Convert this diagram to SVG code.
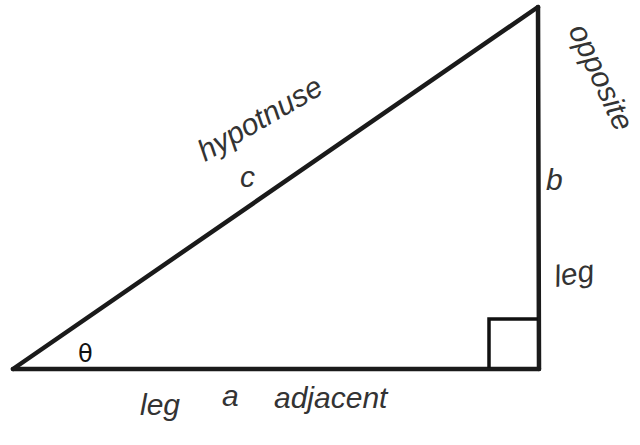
<svg xmlns="http://www.w3.org/2000/svg" width="640" height="445" viewBox="0 0 640 445">
<style>
.edge{stroke:#1a1a1a;stroke-width:4.5;fill:none;stroke-linecap:round;stroke-linejoin:round}
.sq{stroke:#111;stroke-width:3.5;fill:none}
.hand{font-family:"Liberation Sans","DejaVu Sans",sans-serif;font-style:italic;font-weight:normal;fill:#333;font-size:30px}
.theta{font-family:"DejaVu Sans",sans-serif;font-size:24px;fill:#111}
</style>
<rect width="640" height="445" fill="#fff"/>
<g id="connectors">
<line class="edge" x1="13" y1="369" x2="538" y2="7"/>
<line class="edge" x1="538" y1="7" x2="539" y2="369"/>
<line class="edge" x1="13" y1="369" x2="539" y2="369"/>
</g>
<g id="right-angle"><path class="sq" d="M489 368 V319 H538"/></g>
<g id="theta"><text class="theta" x="78" y="362">θ</text></g>
<g id="hyp-label">
<text class="hand" transform="translate(205 162) rotate(-30)">hypotnuse</text>
<text class="hand" x="240" y="187">c</text>
</g>
<g id="opp-label">
<text class="hand" transform="translate(568 30) rotate(65)" font-size="23">opposite</text>
<text class="hand" x="546" y="190">b</text>
<text class="hand" transform="translate(556 287) rotate(-10)">leg</text>
</g>
<g id="adj-label">
<text class="hand" x="140" y="415">leg</text>
<text class="hand" x="222" y="406">a</text>
<text class="hand" x="274" y="408">adjacent</text>
</g>
</svg>
